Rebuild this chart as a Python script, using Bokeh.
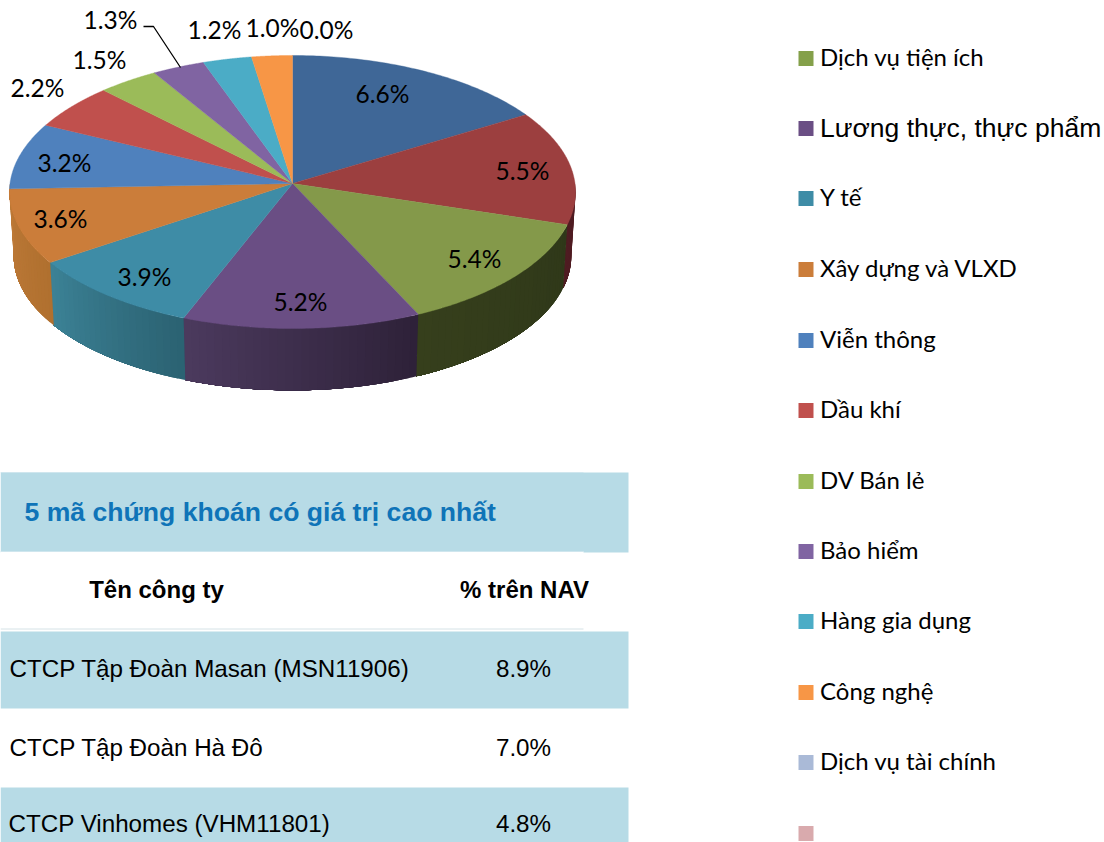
import numpy as np
from bokeh.plotting import figure
from bokeh.core.properties import value
from bokeh.embed import file_html
from bokeh.resources import INLINE

# ---- data ----
slice_values = [6.6, 5.5, 5.4, 5.2, 3.9, 3.6, 3.2, 2.2, 1.5, 1.3, 1.2, 1.0, 0.0]
slice_labels = ["6.6%", "5.5%", "5.4%", "5.2%", "3.9%", "3.6%", "3.2%", "2.2%", "1.5%", "1.3%", "1.2%", "1.0%", "0.0%"]
legend_names = ["Dịch vụ tiện ích", "Lương thực, thực phẩm", "Y tế", "Xây dựng và VLXD", "Viễn thông", "Dầu khí",
                "DV Bán lẻ", "Bảo hiểm", "Hàng gia dụng", "Công nghệ", "Dịch vụ tài chính", ""]
table_title = "5 mã chứng khoán có giá trị cao nhất"
table_head = ["Tên công ty", "% trên NAV"]
company_names = ["CTCP Tập Đoàn Masan (MSN11906)", "CTCP Tập Đoàn Hà Đô", "CTCP Vinhomes (VHM11801)"]
company_nav = ["8.9%", "7.0%", "4.8%"]

# ---- styles and layout ----
top_colors = ["#3F6797", "#9C3F3F", "#84994A", "#6A4E84", "#3E8CA6", "#CB7D3A", "#4F81BD", "#C0504D",
              "#9BBB59", "#8064A2", "#4BACC6", "#F79646", "#AABAD7"]
wall_from = ["#2E4A6E", "#4F1C22", "#2F3819", "#2D2138", "#2B6272", "#B0702F", "#BE7A38", "#8C3A38",
             "#71883F", "#5D4876", "#367D90", "#B46D32", "#7C889C"]
wall_to = ["#2E4A6E", "#4F1C22", "#363F1C", "#4C3A5E", "#3C8296", "#BE7A38", "#BE7A38", "#8C3A38",
           "#71883F", "#5D4876", "#367D90", "#B46D32", "#7C889C"]
legend_colors = ["#84A04A", "#6A4E84", "#3E8CA6", "#CB7D3A", "#4F81BD", "#C0504D", "#9BBB59", "#8064A2",
                 "#4BACC6", "#F79646", "#AABAD7", "#D9AAAD"]
legend_rows = [58, 128, 198, 269, 340, 410, 481, 551, 621, 692, 762, 833]
label_x = [382, 522, 474, 300, 144, 60, 64, 37, 99, 110, 214, 272, 326]
label_y = [93, 170, 258, 301, 276, 218, 162, 87, 59, 19, 29, 27, 29]
BAND = "#B7DBE6"
CX, CY, RX, RY, K, DEPTH, SHRINK = 292.0, 183.0, 282.5, 136.0, 0.0623, 64.0, 0.985
LATO = value("Lato")
ARIAL = value("Liberation Sans")


def rim(theta):
    """Perspective view of a disc: theta clockwise from the far side, in radians."""
    xs, ys = np.sin(theta), np.cos(theta)
    d = 1 + K * ys
    return CX + RX * xs / d, CY - RY * ys / d


def hex2rgb(h):
    return np.array([int(h[i:i + 2], 16) for i in (1, 3, 5)], dtype=float)


def mix(a, b, t):
    c = hex2rgb(a) * (1 - t) + hex2rgb(b) * t
    return "#%02x%02x%02x" % tuple(int(round(v)) for v in c)


p = figure(width=1104, height=842, x_range=(0, 1104), y_range=(842, 0), x_axis_type=None, y_axis_type=None,
           toolbar_location=None, output_backend="svg", min_border=0, outline_line_color=None,
           background_fill_color="white", border_fill_color="white")
p.grid.visible = False

edges = np.concatenate([[0], np.cumsum(slice_values)]) / np.sum(slice_values) * 2 * np.pi

# walls (only the near half of the disc shows them); each strip runs on to the slice's end so no seams show
for i in range(len(slice_values)):
    a0, a1 = max(edges[i], np.pi / 2), min(edges[i + 1], 3 * np.pi / 2)
    if a1 <= a0:
        continue
    n = max(2, int((a1 - a0) / np.radians(1.5)))
    ts = np.linspace(a0, a1, n + 1)
    for j in range(n):
        seg = np.linspace(ts[j], a1, max(3, (n - j) * 2))
        xt, yt = rim(seg)
        xb = CX + (xt - CX) * SHRINK
        yb = CY + (yt - CY) * SHRINK + DEPTH
        c = mix(wall_from[i], wall_to[i], (j + 0.5) / n)
        p.patch(list(xt) + list(xb[::-1]), list(yt) + list(yb[::-1]), fill_color=c, line_color=None)

# top face
for i in range(len(slice_values)):
    if slice_values[i] <= 0:
        continue
    seg = np.linspace(edges[i], edges[i + 1], 80)
    xt, yt = rim(seg)
    p.patch([CX] + list(xt), [CY] + list(yt), fill_color=top_colors[i], line_color=top_colors[i], line_width=0.4)

p.text(label_x, label_y, text=slice_labels, text_font=LATO, text_font_size="24.5px", text_color="#000000",
       text_align="center", text_baseline="middle")
p.line([143, 153, 180], [26, 26, 67], line_color="#000000", line_width=1.3)

# table
p.quad(left=[0, 0, 0], right=[628, 628, 628], top=[472, 631, 787], bottom=[552, 708, 842], fill_color=BAND, line_color=None)
p.quad(left=[0], right=[583], top=[551], bottom=[628], fill_color="white", line_color=None)
p.line([0, 583], [551, 551], line_color="#CFE6EE", line_width=1)
p.line([0, 583], [472, 472], line_color="#CFE6EE", line_width=1)
p.line([0, 583], [628.5, 628.5], line_color="#D5E2E6", line_width=1)
p.text([24], [511], text=[table_title], text_font=ARIAL, text_font_style="bold", text_font_size="26.6px",
       text_color="#0F74B8", text_baseline="middle")
p.text([156, 524], [589, 589], text=table_head, text_font=ARIAL, text_font_style="bold", text_font_size="24px",
       text_color="#000000", text_align="center", text_baseline="middle")
p.text([9, 9, 8], [668, 747, 823], text=company_names, text_font=ARIAL, text_font_size="24.2px", text_color="#000000",
       text_baseline="middle")
p.text([523, 523, 523], [668, 747, 823], text=company_nav, text_font=ARIAL, text_font_size="24.2px", text_color="#000000",
       text_align="center", text_baseline="middle")

# legend
rows = np.array(legend_rows, dtype=float)
p.quad(left=798, right=813, top=rows - 7.5, bottom=rows + 7.5, fill_color=legend_colors, line_color=None)
for r, name in zip(legend_rows, legend_names):
    if not name:
        continue
    arial_row = name.startswith("Lương")
    p.text([819.5], [r - (1 if arial_row else 2)], text=[name], text_font=ARIAL if arial_row else LATO,
           text_font_size="26.5px" if arial_row else "24px", text_color="#000000", text_baseline="middle")

open("out.html", "w").write(file_html(p, INLINE))
